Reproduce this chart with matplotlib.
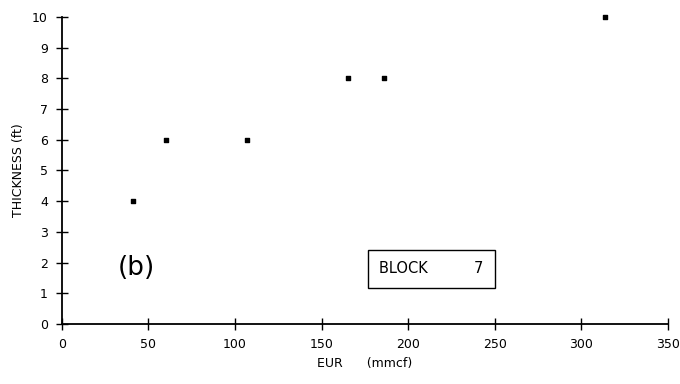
import matplotlib.pyplot as plt

eur = [41, 60, 107, 165, 186, 314]
thickness = [4, 6, 6, 8, 8, 10]
xticks = [0, 50, 100, 150, 200, 250, 300, 350]
yticks = list(range(0, 11))

fig = plt.figure(figsize=(6.8, 3.84), dpi=100)
ax = fig.add_axes([0.091, 0.156, 0.891, 0.8])

ax.scatter(eur, thickness, marker='s', s=10, color='black', clip_on=False, zorder=3)

ax.set_xlim(0, 350)
ax.set_ylim(0, 10)
ax.set_xticks(xticks)
ax.set_yticks(yticks)
for s in ['top', 'right']:
    ax.spines[s].set_visible(False)
for s in ['left', 'bottom']:
    ax.spines[s].set_linewidth(1.3)
ax.tick_params(direction='inout', length=8, width=1.0, labelsize=9, pad=6)

ax.set_xlabel('EUR      (mmcf)', fontsize=9)
ax.set_ylabel('THICKNESS (ft)', fontsize=9, labelpad=5)

ax.text(0.093, 0.182, '(b)', transform=ax.transAxes, fontsize=19, ha='left', va='center')
ax.text(0.524, 0.18, 'BLOCK          7', transform=ax.transAxes, fontsize=10.5, ha='left', va='center',
        bbox=dict(boxstyle='square,pad=0.8', facecolor='white', edgecolor='black', linewidth=1))

fig.savefig('out.png', dpi=100)
